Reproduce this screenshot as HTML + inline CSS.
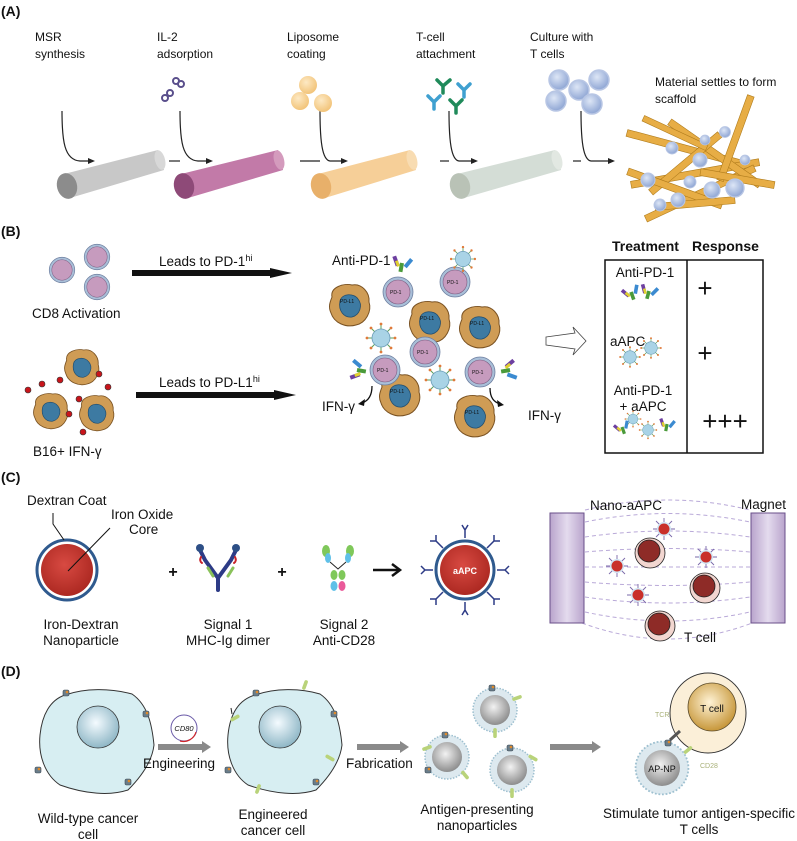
<!DOCTYPE html>
<html><head><meta charset="utf-8"><style>
html,body{margin:0;padding:0;background:#fff}
svg{display:block}
text{font-family:"Liberation Sans",sans-serif;fill:#111}
</style></head><body>
<svg width="797" height="841" viewBox="0 0 797 841" xmlns="http://www.w3.org/2000/svg">
<defs>
<radialGradient id="gsph" cx="40%" cy="35%" r="65%"><stop offset="0" stop-color="#dde6f6"/><stop offset="1" stop-color="#8fa6d4"/></radialGradient>
<radialGradient id="glip" cx="40%" cy="35%" r="65%"><stop offset="0" stop-color="#fde9c4"/><stop offset="1" stop-color="#f2c47a"/></radialGradient>
<radialGradient id="gnuc" cx="45%" cy="40%" r="60%"><stop offset="0" stop-color="#f4fbff"/><stop offset="1" stop-color="#8fb7c6"/></radialGradient>
<radialGradient id="gnp" cx="45%" cy="40%" r="60%"><stop offset="0" stop-color="#f2f2f2"/><stop offset="1" stop-color="#8d8d8d"/></radialGradient>
<radialGradient id="gtn" cx="45%" cy="40%" r="60%"><stop offset="0" stop-color="#fff3d6"/><stop offset="1" stop-color="#c7973a"/></radialGradient>
<radialGradient id="gred" cx="45%" cy="40%" r="65%"><stop offset="0" stop-color="#d84a42"/><stop offset="1" stop-color="#a9261f"/></radialGradient>
<linearGradient id="gmag" x1="0" x2="1"><stop offset="0" stop-color="#b9a4cc"/><stop offset=".5" stop-color="#e4dbee"/><stop offset="1" stop-color="#b9a4cc"/></linearGradient>
<g id="tumor"><path d="M-18,-8 C-20,-18 -6,-22 2,-20 C12,-22 20,-12 19,-3 C22,6 16,18 6,20 C-4,23 -16,18 -19,8 C-22,2 -20,-3 -18,-8Z" fill="#cf9c55" stroke="#7a5222" stroke-width="1"/><path d="M-10,-4 C-8,-12 4,-12 8,-6 C13,0 10,10 2,12 C-6,13 -12,6 -10,-4Z" fill="#3d7aa2" stroke="#234e6e" stroke-width=".8"/></g>
<g id="pd1"><circle r="15" fill="#a9bfd8" stroke="#6e7fa0" stroke-width=".8"/><circle r="12" fill="#c69bbe" stroke="#7e5d82" stroke-width=".6"/></g>
<g id="apc" stroke-width="1"><g stroke="#5aa05a"><line x1="-14" y1="0" x2="14" y2="0"/><line x1="0" y1="-14" x2="0" y2="14"/><line x1="-10" y1="-10" x2="10" y2="10"/><line x1="-10" y1="10" x2="10" y2="-10"/></g><g fill="#e07a3a"><circle cx="-14" cy="0" r="1.4"/><circle cx="14" cy="0" r="1.4"/><circle cx="0" cy="-14" r="1.4"/><circle cx="0" cy="14" r="1.4"/><circle cx="10" cy="10" r="1.4"/><circle cx="-10" cy="-10" r="1.4"/><circle cx="10" cy="-10" r="1.4"/><circle cx="-10" cy="10" r="1.4"/></g><circle r="9" fill="#a9d3e6" stroke="#6a9cb8" stroke-width=".8"/></g>
<g id="ab"><rect x="-2" y="0" width="4" height="9" fill="#4a9a3a"/><rect x="-7" y="-9" width="4" height="10" fill="#6d3fa0" transform="rotate(-30)"/><rect x="3" y="-9" width="4" height="10" fill="#3b8ad0" transform="rotate(30)"/><rect x="-6" y="-4" width="3" height="6" fill="#e0d030" transform="rotate(-30)"/></g>
<g id="tsph"><circle r="10" fill="url(#gsph)" stroke="#b8c6e4" stroke-width="1.5"/></g>
<g id="mhc"><rect x="-3" y="-3" width="6" height="6" fill="#6a7d8a" stroke="#3d4a55" stroke-width=".6" rx="1.5"/><circle cx="1" cy="-1" r="1.3" fill="#e08a2a"/></g>
<g id="cd80"><rect x="-1.8" y="-5" width="3.6" height="10" rx="1.8" fill="#b9d37a"/></g>
<g id="nanoap"><circle r="22" fill="#dde9ef" stroke="#9ec0d0" stroke-width="1.5" stroke-dasharray="1.5 1.5"/><circle r="15" fill="url(#gnp)"/></g>
<g id="sapc"><g stroke="#7a68a8" stroke-width=".9"><line x1="-11" y1="0" x2="11" y2="0"/><line x1="0" y1="-11" x2="0" y2="11"/><line x1="-8" y1="-8" x2="8" y2="8"/><line x1="-8" y1="8" x2="8" y2="-8"/></g><circle r="7" fill="#cfe4f3"/><circle r="5.5" fill="#c9302a"/></g>
<g id="tcm"><circle r="15" fill="#f2d6d0" stroke="#222" stroke-width=".8"/><circle cx="-1" cy="-2" r="11" fill="#8e2b27" stroke="#222" stroke-width=".8"/></g>
<g id="harr"><path d="M0,0 L-7,-3 L-7,3Z" fill="#222"/></g>
</defs>

<!-- ============ PANEL A ============ -->
<text x="1" y="16" font-size="14" font-weight="bold">(A)</text>
<g font-size="12">
<text x="35" y="41">MSR</text><text x="35" y="58">synthesis</text>
<text x="157" y="41">IL-2</text><text x="157" y="58">adsorption</text>
<text x="287" y="41">Liposome</text><text x="287" y="58">coating</text>
<text x="416" y="41">T-cell</text><text x="416" y="58">attachment</text>
<text x="530" y="41">Culture with</text><text x="530" y="58">T cells</text>
<text x="655" y="86">Material settles to form</text><text x="655" y="103">scaffold</text>
</g>
<g fill="none" stroke="#222" stroke-width="1.2">
<path d="M62,111 C62,140 64,160 80,161 L92,161"/>
<path d="M180,111 C180,140 182,160 198,161 L210,161"/>
<path d="M320,111 C320,140 322,160 330,161 L345,161"/>
<path d="M449,111 C449,140 451,160 459,161 L475,161"/>
<path d="M581,111 C581,140 583,160 591,161 L612,161"/>
<line x1="169" y1="161" x2="180" y2="161"/>
<line x1="300" y1="161" x2="320" y2="161"/>
<line x1="440" y1="161" x2="449" y2="161"/>
<line x1="573" y1="161" x2="581" y2="161"/>
</g>
<use href="#harr" x="95" y="161"/><use href="#harr" x="213" y="161"/><use href="#harr" x="348" y="161"/><use href="#harr" x="478" y="161"/><use href="#harr" x="615" y="161"/>
<g>
<path d="M64,174 L158,150 L164,170 L70,198Z" fill="#c8c8c8"/><ellipse cx="67" cy="186" rx="10" ry="13" fill="#8c8c8c" transform="rotate(-15 67 186)"/><ellipse cx="160" cy="160" rx="5" ry="10" fill="#d8d8d8" transform="rotate(-15 160 160)"/>
<path d="M181,174 L278,150 L283,170 L188,198Z" fill="#c27aa8"/><ellipse cx="184" cy="186" rx="10" ry="13" fill="#8e4a78" transform="rotate(-15 184 186)"/><ellipse cx="279" cy="160" rx="5" ry="10" fill="#d49bbd" transform="rotate(-15 279 160)"/>
<path d="M318,174 L410,150 L416,170 L325,198Z" fill="#f6cf98"/><ellipse cx="321" cy="186" rx="10" ry="13" fill="#e8b06a" transform="rotate(-15 321 186)"/><ellipse cx="412" cy="160" rx="5" ry="10" fill="#f8dcb2" transform="rotate(-15 412 160)"/>
<path d="M457,174 L555,150 L561,170 L464,198Z" fill="#d4ddd6"/><ellipse cx="460" cy="186" rx="10" ry="13" fill="#b9c2b6" transform="rotate(-15 460 186)"/><ellipse cx="557" cy="160" rx="5" ry="10" fill="#e2e8e2" transform="rotate(-15 557 160)"/>
</g>
<g fill="none" stroke="#5a4f8c" stroke-width="2"><circle cx="176" cy="81" r="3"/><circle cx="181" cy="84" r="3"/><circle cx="170" cy="93" r="3"/><circle cx="165" cy="98" r="3"/></g>
<circle cx="308" cy="85" r="9" fill="url(#glip)"/><circle cx="300" cy="101" r="9" fill="url(#glip)"/><circle cx="323" cy="103" r="9" fill="url(#glip)"/>
<g stroke-width="3.5" fill="none" stroke-linecap="round">
<path d="M437,80 L443,86 L450,80 M443,86 L443,93" stroke="#1f8a5a"/>
<path d="M458,84 L464,90 L470,84 M464,90 L464,97" stroke="#3fa0d0"/>
<path d="M428,96 L434,102 L440,96 M434,102 L434,109" stroke="#3fa0d0"/>
<path d="M450,100 L456,106 L462,100 M456,106 L456,113" stroke="#1f8a5a"/>
</g>
<use href="#tsph" x="559" y="80"/><use href="#tsph" x="579" y="90"/><use href="#tsph" x="599" y="80"/><use href="#tsph" x="556" y="101"/><use href="#tsph" x="592" y="104"/>
<g stroke="#b07c1c" stroke-width="0.6">
<g fill="#e7ad45">
<rect x="625" y="145" width="120" height="7" transform="rotate(15 685 148)"/>
<rect x="630" y="170" width="130" height="7" transform="rotate(-10 695 173)"/>
<rect x="640" y="190" width="120" height="7" transform="rotate(-25 700 193)"/>
<rect x="660" y="150" width="110" height="7" transform="rotate(35 715 153)"/>
<rect x="640" y="160" width="90" height="7" transform="rotate(-40 685 163)"/>
<rect x="690" y="135" width="90" height="7" transform="rotate(-70 735 138)"/>
<rect x="625" y="185" width="100" height="7" transform="rotate(20 675 188)"/>
<rect x="700" y="175" width="75" height="7" transform="rotate(10 737 178)"/>
<rect x="655" y="200" width="80" height="7" transform="rotate(-5 695 203)"/>
<rect x="640" y="130" width="70" height="6" transform="rotate(25 675 133)"/>
</g></g>
<g><use href="#tsph" transform="translate(648,180) scale(.7)"/><use href="#tsph" transform="translate(672,148) scale(.6)"/><use href="#tsph" transform="translate(700,160) scale(.7)"/><use href="#tsph" transform="translate(712,190) scale(.8)"/><use href="#tsph" transform="translate(735,188) scale(.9)"/><use href="#tsph" transform="translate(660,205) scale(.6)"/><use href="#tsph" transform="translate(725,132) scale(.55)"/><use href="#tsph" transform="translate(690,182) scale(.6)"/><use href="#tsph" transform="translate(745,160) scale(.5)"/><use href="#tsph" transform="translate(678,200) scale(.7)"/><use href="#tsph" transform="translate(705,140) scale(.5)"/></g>

<!-- ============ PANEL B ============ -->
<text x="1" y="236" font-size="14" font-weight="bold">(B)</text>
<use href="#pd1" transform="translate(97,257) scale(.85)"/><use href="#pd1" transform="translate(62,270) scale(.85)"/><use href="#pd1" transform="translate(97,287) scale(.85)"/>
<text x="32" y="318" font-size="13.5">CD8 Activation</text>
<text x="159" y="266" font-size="13.5">Leads to PD-1<tspan font-size="9" dy="-5">hi</tspan></text>
<path d="M132,270 L270,270 L270,268 L292,273 L270,278 L270,276 L132,276Z" fill="#111"/>
<use href="#tumor" transform="translate(82,367) scale(.85)"/><use href="#tumor" transform="translate(51,411) scale(.85)"/><use href="#tumor" transform="translate(97,413) scale(.85)"/>
<g fill="#c8151b" stroke="#333" stroke-width=".6"><circle cx="42" cy="384" r="3"/><circle cx="60" cy="380" r="3"/><circle cx="99" cy="374" r="3"/><circle cx="108" cy="387" r="3"/><circle cx="79" cy="399" r="3"/><circle cx="69" cy="414" r="3"/><circle cx="83" cy="432" r="3"/><circle cx="28" cy="390" r="3"/></g>
<text x="33" y="456" font-size="13.5">B16+ IFN-γ</text>
<text x="159" y="387" font-size="13.5">Leads to PD-L1<tspan font-size="9" dy="-5">hi</tspan></text>
<path d="M136,392 L274,392 L274,390 L296,395 L274,400 L274,398 L136,398Z" fill="#111"/>
<text x="332" y="265" font-size="13.5">Anti-PD-1</text>
<use href="#tumor" x="350" y="305"/><use href="#tumor" x="430" y="322"/><use href="#tumor" x="480" y="327"/><use href="#tumor" x="400" y="395"/><use href="#tumor" x="475" y="416"/>
<use href="#pd1" x="398" y="292"/><use href="#pd1" x="455" y="282"/><use href="#pd1" x="425" y="352"/><use href="#pd1" x="385" y="370"/><use href="#pd1" x="480" y="372"/>
<use href="#apc" transform="translate(463,259) scale(.85)"/><use href="#apc" x="381" y="338"/><use href="#apc" x="440" y="380"/>
<use href="#ab" transform="translate(402,263) rotate(10)"/><use href="#ab" transform="translate(357,370) rotate(-80)"/><use href="#ab" transform="translate(510,370) rotate(80)"/>
<g font-size="5" fill="#333"><text x="340" y="303">PD-L1</text><text x="420" y="320">PD-L1</text><text x="470" y="325">PD-L1</text><text x="390" y="393">PD-L1</text><text x="465" y="414">PD-L1</text><text x="390" y="294">PD-1</text><text x="447" y="284">PD-1</text><text x="417" y="354">PD-1</text><text x="377" y="372">PD-1</text><text x="472" y="374">PD-1</text></g>
<g fill="none" stroke="#111" stroke-width="1.3"><path d="M372,386 C372,396 368,401 362,403"/><path d="M490,388 C490,398 494,402 500,404"/></g>
<path d="M358,404 L365,399 L364,406Z" fill="#111"/><path d="M504,405 L497,400 L498,407Z" fill="#111"/>
<text x="322" y="411" font-size="13.5">IFN-γ</text><text x="528" y="420" font-size="13.5">IFN-γ</text>
<path d="M546,337 L575,333 L573,327 L586,341 L573,355 L575,349 L546,345Z" fill="#fff" stroke="#444" stroke-width=".8"/>
<text x="612" y="251" font-size="14" font-weight="bold">Treatment</text><text x="692" y="251" font-size="14" font-weight="bold">Response</text>
<rect x="605" y="260" width="158" height="193" fill="none" stroke="#111" stroke-width="1.5"/>
<line x1="687" y1="260" x2="687" y2="453" stroke="#111" stroke-width="1.5"/>
<text x="645" y="277" font-size="13.5" text-anchor="middle">Anti-PD-1</text>
<use href="#ab" transform="translate(631,292) scale(.9) rotate(-20)"/><use href="#ab" transform="translate(649,291) scale(.9) rotate(15)"/>
<text x="705" y="297" font-size="26" text-anchor="middle">+</text>
<text x="610" y="346" font-size="13.5">aAPC</text>
<use href="#apc" transform="translate(651,348) scale(.7)"/><use href="#apc" transform="translate(630,357) scale(.7)"/>
<text x="705" y="362" font-size="26" text-anchor="middle">+</text>
<text x="643" y="395" font-size="13.5" text-anchor="middle">Anti-PD-1</text><text x="643" y="411" font-size="13.5" text-anchor="middle">+ aAPC</text>
<use href="#apc" transform="translate(633,419) scale(.55)"/><use href="#apc" transform="translate(648,430) scale(.6)"/>
<use href="#ab" transform="translate(622,427) scale(.8) rotate(-20)"/><use href="#ab" transform="translate(667,424) scale(.8) rotate(10)"/>
<text x="725" y="430" font-size="26" text-anchor="middle">+++</text>

<!-- ============ PANEL C ============ -->
<text x="1" y="482" font-size="14" font-weight="bold">(C)</text>
<text x="27" y="505" font-size="13.5">Dextran Coat</text><text x="111" y="519" font-size="13.5">Iron Oxide</text><text x="129" y="534" font-size="13.5">Core</text>
<circle cx="67" cy="570" r="30" fill="#fff" stroke="#2f5a8e" stroke-width="3"/>
<circle cx="67" cy="570" r="26" fill="url(#gred)"/>
<path d="M53,513 L53,524 L64,540" fill="none" stroke="#111" stroke-width="1"/>
<path d="M110,528 L68,571" fill="none" stroke="#111" stroke-width="1"/>
<text x="81" y="629" font-size="13.5" text-anchor="middle">Iron-Dextran</text><text x="81" y="645" font-size="13.5" text-anchor="middle">Nanoparticle</text>
<text x="173" y="577" font-size="16" font-weight="bold" text-anchor="middle">+</text>
<g stroke-linecap="round" fill="none">
<path d="M218,590 L218,578 L205,560 L200,550 M218,578 L231,560 L236,550" stroke="#2d3b86" stroke-width="4"/>
<path d="M208,568 L213,576 M228,576 L233,568" stroke="#8ac25a" stroke-width="3"/>
<path d="M201,557 q-2,4 1,6 M235,557 q2,4 -1,6" stroke="#c8242a" stroke-width="2"/>
</g>
<circle cx="200" cy="548" r="4" fill="#2d4f86"/><circle cx="236" cy="548" r="4" fill="#2d4f86"/>
<text x="228" y="629" font-size="13.5" text-anchor="middle">Signal 1</text><text x="228" y="645" font-size="13.5" text-anchor="middle">MHC-Ig dimer</text>
<text x="282" y="577" font-size="16" font-weight="bold" text-anchor="middle">+</text>
<g><ellipse cx="326" cy="551" rx="4" ry="6" fill="#7fc85a"/><ellipse cx="350" cy="551" rx="4" ry="6" fill="#7fc85a"/><ellipse cx="328" cy="558" rx="3" ry="5" fill="#5fc0e8"/><ellipse cx="348" cy="558" rx="3" ry="5" fill="#5fc0e8"/>
<ellipse cx="334" cy="575" rx="3.5" ry="5" fill="#7fc85a"/><ellipse cx="342" cy="575" rx="3.5" ry="5" fill="#7fc85a"/><ellipse cx="334" cy="586" rx="3.5" ry="5" fill="#5fc0e8"/><ellipse cx="342" cy="586" rx="3.5" ry="5" fill="#ea5a9a"/>
<path d="M330,562 L338,569 L346,562" stroke="#222" fill="none"/></g>
<text x="344" y="629" font-size="13.5" text-anchor="middle">Signal 2</text><text x="344" y="645" font-size="13.5" text-anchor="middle">Anti-CD28</text>
<path d="M373,570 L398,570" stroke="#111" stroke-width="2.5"/><path d="M392,564 L400,570 L392,576" stroke="#111" stroke-width="2.5" fill="none"/>
<circle cx="465" cy="570" r="29" fill="#fff" stroke="#2f5a8e" stroke-width="3"/><circle cx="465" cy="570" r="25" fill="url(#gred)"/>
<text x="465" y="574" font-size="9" font-weight="bold" text-anchor="middle" style="fill:#fff">aAPC</text>
<g stroke="#2d3b86" stroke-width="1.5" fill="none">
<path d="M465,538 L465,530 M465,530 l-3,-5 M465,530 l3,-5"/><path d="M443,548 L436,541 l-6,0 M436,541 l0,-6"/><path d="M487,548 L494,541 l6,0 M494,541 l0,-6"/><path d="M433,570 L425,570 l-4,-4 M425,570 l-4,4"/><path d="M497,570 L505,570 l4,-4 M505,570 l4,4"/><path d="M443,592 L436,599 l-6,0 M436,599 l0,6"/><path d="M487,592 L494,599 l6,0 M494,599 l0,6"/><path d="M465,602 L465,610 l-3,5 M465,610 l3,5"/>
</g>
<g fill="none" stroke="#b9a9d8" stroke-width="1" stroke-dasharray="4 3">
<path d="M585,522 Q668,505 750,522"/><path d="M585,537 Q668,525 750,537"/><path d="M585,552 Q668,545 750,552"/><path d="M585,567 L750,567"/><path d="M585,582 Q668,589 750,582"/><path d="M585,597 Q668,609 750,597"/><path d="M585,612 Q668,630 750,612"/><path d="M582,623 Q668,655 752,623"/><path d="M585,510 Q668,490 750,510"/>
</g>
<rect x="550" y="513" width="34" height="110" fill="url(#gmag)" stroke="#6a4f8a" stroke-width="1"/>
<rect x="751" y="513" width="34" height="110" fill="url(#gmag)" stroke="#6a4f8a" stroke-width="1"/>
<text x="590" y="510" font-size="13.5">Nano-aAPC</text><text x="741" y="509" font-size="13.5">Magnet</text>
<use href="#sapc" x="664" y="529"/><use href="#sapc" x="617" y="566"/><use href="#sapc" x="706" y="557"/><use href="#sapc" x="638" y="595"/>
<use href="#tcm" x="650" y="553"/><use href="#tcm" x="705" y="588"/><use href="#tcm" x="660" y="626"/>
<text x="684" y="642" font-size="13.5">T cell</text>

<!-- ============ PANEL D ============ -->
<text x="1" y="676" font-size="14" font-weight="bold">(D)</text>
<path d="M65,695 C85,688 110,688 132,694 C148,705 152,725 154,745 C152,762 140,778 128,790 C110,796 85,794 60,785 C45,775 38,755 40,735 C42,715 50,700 65,695Z" fill="#d7eef2" stroke="#333" stroke-width="1"/>
<circle cx="98" cy="727" r="21" fill="url(#gnuc)" stroke="#333" stroke-width=".8"/>
<use href="#mhc" x="66" y="693"/><use href="#mhc" x="146" y="714"/><use href="#mhc" x="38" y="770"/><use href="#mhc" x="128" y="782"/>
<circle cx="184" cy="728" r="13" fill="#fff" stroke="#6a5aa8" stroke-width="1"/><path d="M196,732 A13,13 0 0 1 180,741" fill="none" stroke="#d0252a" stroke-width="1.2"/>
<text x="184" y="731" font-size="7.5" font-style="italic" text-anchor="middle">CD80</text>
<path d="M158,744 L202,744 L202,741 L211,747 L202,753 L202,750 L158,750Z" fill="#8a8a8a"/>
<text x="143" y="768" font-size="13.5">Engineering</text>
<path d="M255,695 C275,688 300,688 320,694 C336,705 340,725 342,745 C340,762 328,778 316,790 C298,796 273,794 248,785 C233,775 226,755 228,735 C230,715 238,700 255,695Z" fill="#d7eef2" stroke="#333" stroke-width="1"/>
<circle cx="280" cy="727" r="21" fill="url(#gnuc)" stroke="#333" stroke-width=".8"/>
<use href="#mhc" x="256" y="693"/><use href="#mhc" x="334" y="714"/><use href="#mhc" x="228" y="770"/><use href="#mhc" x="316" y="782"/>
<use href="#cd80" transform="translate(305,685) rotate(20)"/><use href="#cd80" transform="translate(235,718) rotate(60)"/><use href="#cd80" transform="translate(330,758) rotate(-60)"/><use href="#cd80" transform="translate(258,789) rotate(20)"/>
<line x1="231" y1="708" x2="232" y2="714" stroke="#222"/>
<path d="M357,744 L400,744 L400,741 L409,747 L400,753 L400,750 L357,750Z" fill="#8a8a8a"/>
<text x="346" y="768" font-size="13.5">Fabrication</text>
<use href="#nanoap" x="447" y="757"/><use href="#nanoap" x="495" y="710"/><use href="#nanoap" x="512" y="770"/>
<use href="#mhc" x="445" y="735"/><use href="#mhc" x="492" y="688"/><use href="#mhc" x="510" y="748"/><use href="#mhc" x="428" y="770"/>
<use href="#cd80" transform="translate(427,748) rotate(70)"/><use href="#cd80" transform="translate(465,775) rotate(-40)"/><use href="#cd80" transform="translate(517,698) rotate(70)"/><use href="#cd80" transform="translate(495,733)"/><use href="#cd80" transform="translate(533,758) rotate(-60)"/><use href="#cd80" transform="translate(512,793)"/>
<path d="M550,744 L592,744 L592,741 L601,747 L592,753 L592,750 L550,750Z" fill="#8a8a8a"/>
<ellipse cx="708" cy="713" rx="38" ry="40" fill="#fbefd8" stroke="#333" stroke-width="1"/>
<circle cx="712" cy="707" r="24" fill="url(#gtn)" stroke="#5a4a2a" stroke-width=".8"/>
<text x="712" y="712" font-size="10" text-anchor="middle">T cell</text>
<use href="#nanoap" transform="translate(662,768) scale(1.2)"/>
<text x="662" y="772" font-size="9" text-anchor="middle">AP-NP</text>
<path d="M670,740 L680,731" stroke="#555" stroke-width="3"/><use href="#mhc" x="668" y="743"/>
<use href="#cd80" transform="translate(688,750) rotate(50)"/>
<text x="655" y="717" font-size="7" style="fill:#a8b078">TCR</text><text x="700" y="768" font-size="7" style="fill:#a8b078">CD28</text>
<text x="88" y="823" font-size="13.5" text-anchor="middle">Wild-type cancer</text><text x="88" y="839" font-size="13.5" text-anchor="middle">cell</text>
<text x="273" y="819" font-size="13.5" text-anchor="middle">Engineered</text><text x="273" y="835" font-size="13.5" text-anchor="middle">cancer cell</text>
<text x="477" y="814" font-size="13.5" text-anchor="middle">Antigen-presenting</text><text x="477" y="830" font-size="13.5" text-anchor="middle">nanoparticles</text>
<text x="699" y="818" font-size="13.5" text-anchor="middle">Stimulate tumor antigen-specific</text><text x="699" y="834" font-size="13.5" text-anchor="middle">T cells</text>
</svg>
</body></html>
